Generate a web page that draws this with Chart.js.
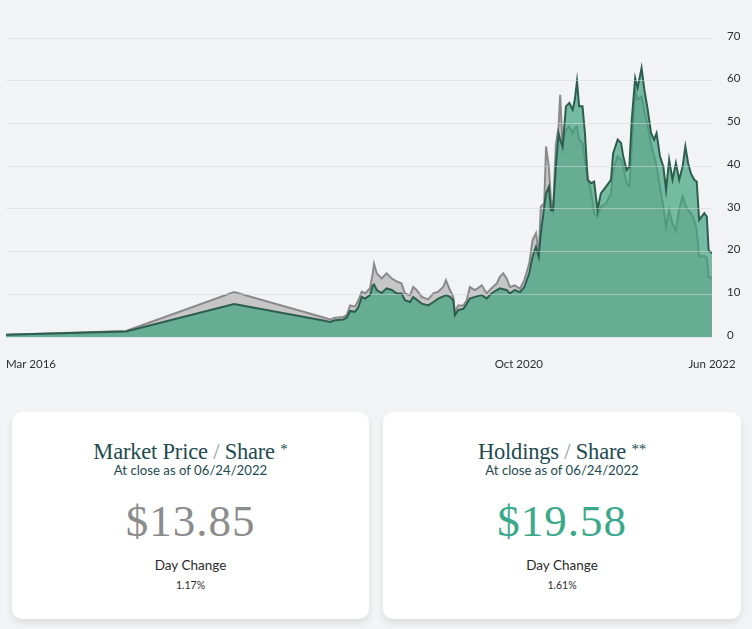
<!DOCTYPE html>
<html>
<head>
<meta charset="utf-8">
<script src="https://cdn.jsdelivr.net/npm/chart.js@4.4.1/dist/chart.umd.min.js"></script>
<style>
  html, body { margin: 0; padding: 0; background: #f2f3f5; }
  body { width: 752px; height: 629px; position: relative; overflow: hidden; font-family: Lato, "Open Sans", sans-serif; }
  #wrap { position: absolute; left: 0; top: 0; width: 752px; height: 385px; }
  .card { position: absolute; top: 412px; height: 207px; background: #fff; border-radius: 10px;
          box-shadow: 0 4px 7px rgba(0,0,0,0.09); text-align: center; }
  .card div { position: absolute; left: 0; right: 0; white-space: nowrap; }
  .title { top: 24px; line-height: 26px; font-family: "Liberation Serif", "DejaVu Serif", serif; font-size: 22.5px; color: #1d4a50; letter-spacing: -0.2px; }
  .title .sl { color: #8aa0a3; font-weight: 300; }
  .title .st { font-size: 15px; vertical-align: 5px; }
  .sub { top: 50px; line-height: 16px; font-size: 13.2px; color: #1d4a50; }
  .price { top: 84px; line-height: 50px; font-family: "Liberation Serif", "DejaVu Serif", serif; font-size: 45px; letter-spacing: 1px; }
  .dc { top: 145px; line-height: 16px; font-size: 13.5px; color: #2b2b2b; }
  .pct { top: 166px; line-height: 14px; font-size: 10.5px; color: #2b2b2b; }
</style>
</head>
<body>
<div id="wrap"><canvas id="c"></canvas></div>
<div id="cards"></div>
<script>
// ---- data ----
const dates = [
 '2016-03-01','2017-03-28','2018-03-16','2018-12-28','2019-01-23','2019-02-09','2019-03-08','2019-03-19','2019-03-30','2019-04-15',
 '2019-04-26','2019-05-07','2019-05-18','2019-06-03','2019-06-12','2019-06-16','2019-06-25','2019-07-11','2019-07-27','2019-08-13',
 '2019-08-29','2019-09-14','2019-09-25','2019-10-12','2019-10-22','2019-11-02','2019-11-19','2019-12-10','2019-12-27','2020-01-12',
 '2020-01-28','2020-02-06','2020-02-19','2020-03-01','2020-03-06','2020-03-17','2020-04-03','2020-04-14','2020-04-24','2020-05-11',
 '2020-06-02','2020-06-18','2020-07-04','2020-07-21','2020-07-31','2020-08-11','2020-08-22','2020-09-02','2020-09-18','2020-10-05',
 '2020-10-19','2020-11-04','2020-11-15','2020-11-26','2020-12-05','2020-12-12','2020-12-23','2020-12-29','2021-01-07','2021-01-14',
 '2021-01-21','2021-01-30','2021-02-08','2021-02-13','2021-02-21','2021-03-04','2021-03-15','2021-03-26','2021-04-02','2021-04-09',
 '2021-04-16','2021-04-27','2021-05-05','2021-05-14','2021-05-25','2021-06-04','2021-06-15','2021-06-26','2021-07-13','2021-07-29',
 '2021-08-05','2021-08-20','2021-08-31','2021-09-07','2021-09-18','2021-09-27','2021-10-05','2021-10-16','2021-10-24','2021-11-06',
 '2021-11-15','2021-11-26','2021-12-07','2021-12-17','2021-12-25','2022-01-05','2022-01-16','2022-01-25','2022-02-04','2022-02-15',
 '2022-02-26','2022-03-09','2022-03-20','2022-03-29','2022-04-07','2022-04-16','2022-04-27','2022-05-05','2022-05-13','2022-05-30',
 '2022-06-07','2022-06-13','2022-06-24'
];
const holdingsPerShare = [
 0.55,1.3,7.7,3.9,3.5,3.9,4.1,4.55,6.1,5.9,
 7.0,9.4,9.0,9.8,12.1,12.3,11.0,10.3,11.4,11.0,
 10.2,10.2,8.6,8.2,9.4,8.8,7.8,7.4,8.2,9.0,
 9.5,9.8,9.4,8.6,5.1,6.3,6.6,7.8,9.0,9.4,
 9.8,9.0,10.2,11.0,11.4,11.2,11.0,10.2,11.0,10.5,
 11.7,14.9,18.8,21.1,18.8,24.3,30.5,33.6,35.2,29.7,
 29.7,39.9,47.7,46.2,44.6,54.0,54.8,53.2,55.6,59.9,
 54.0,54.0,47.7,36.8,36.0,36.4,29.7,33.6,35.2,36.8,
 43.0,46.2,45.4,42.3,39.1,39.9,50.9,60.6,58.3,63.0,
 57.9,53.2,47.7,46.2,47.7,42.3,39.9,34.4,41.5,36.8,
 40.7,36.8,39.9,44.6,40.7,38.3,36.8,36.4,27.4,29.0,
 28.2,20.3,19.58
];
const marketPrice = [
 0.5,1.4,10.5,4.7,4.1,4.5,4.7,5.1,7.4,7.1,
 8.6,10.6,10.2,11.4,14.9,17.1,14.9,13.7,14.9,13.7,
 13.0,12.5,10.2,9.8,11.7,11.0,9.4,8.8,10.2,10.6,
 11.7,13.3,11.0,9.4,5.9,7.4,7.4,8.6,11.7,11.0,
 12.1,10.2,11.4,12.5,14.1,14.9,13.7,11.7,12.1,11.3,
 13.3,17.2,22.7,24.3,19.6,30.5,31.3,44.6,39.9,32.0,
 29.7,45.0,49.3,56.7,44.6,48.5,49.3,47.7,49.0,49.3,
 46.2,45.5,41.5,37.0,34.0,29.0,28.2,30.5,31.3,33.6,
 39.0,42.3,41.5,39.9,36.0,35.2,44.6,57.9,55.6,56.3,
 53.0,49.3,45.0,42.3,40.0,35.2,30.5,25.8,29.7,26.5,
 25.0,30.0,32.9,31.0,29.7,29.0,27.4,25.0,18.8,19.0,
 18.5,14.0,13.85
];
const xTickLabels = ['Mar 2016', 'Oct 2020', 'Jun 2022'];
const xTickDates = ['2016-03-01', '2020-10-01', '2022-06-24'];
const yTickValues = [0, 10, 20, 30, 40, 50, 60, 70];

const cardTitles = ['Market Price / Share', 'Holdings / Share'];
const cardMarks = ['*', '**'];
const cardAsOf = ['06/24/2022', '06/24/2022'];
const cardValues = ['$13.85', '$19.58'];
const cardDayChange = ['1.17%', '1.61%'];
const cardValueColors = ['#8c8c8c', '#3aa98a'];

// ---- cards ----
const cardsEl = document.getElementById('cards');
const cardLeft = [12, 383], cardWidth = [357, 358];
cardTitles.forEach((t, i) => {
  const parts = t.split(' / ');
  const d = document.createElement('div');
  d.className = 'card';
  d.style.left = cardLeft[i] + 'px';
  d.style.width = cardWidth[i] + 'px';
  d.innerHTML =
    '<div class="title">' + parts[0] + ' <span class="sl">/</span> ' + parts[1] + ' <span class="st">' + cardMarks[i] + '</span></div>' +
    '<div class="sub">At close as of ' + cardAsOf[i] + '</div>' +
    '<div class="price" style="color:' + cardValueColors[i] + '">' + cardValues[i] + '</div>' +
    '<div class="dc">Day Change</div>' +
    '<div class="pct">' + cardDayChange[i] + '</div>';
  cardsEl.appendChild(d);
});

// ---- chart ----
const ts = s => Date.parse(s + 'T00:00:00Z');
const xTickTs = xTickDates.map(ts);

const xLabelPlugin = {
  id: 'xLabels',
  afterDraw(chart) {
    const sx = chart.scales.x, ctx = chart.ctx;
    ctx.save();
    ctx.font = '11.5px Lato, "Open Sans", sans-serif';
    ctx.fillStyle = '#2e2e2e';
    ctx.textBaseline = 'middle';
    xTickLabels.forEach((lab, i) => {
      const px = sx.getPixelForValue(xTickTs[i]);
      ctx.textAlign = i === 0 ? 'left' : 'center';
      ctx.fillText(lab, px, chart.chartArea.bottom + 27);
    });
    ctx.restore();
  }
};

new Chart(document.getElementById('c'), {
  type: 'line',
  data: {
    datasets: [
      {
        label: 'Holdings / Share',
        data: dates.map((d, i) => ({ x: ts(d), y: holdingsPerShare[i] })),
        borderColor: '#2c5d4e',
        borderWidth: 2,
        backgroundColor: 'rgba(58,160,122,0.68)',
        fill: 'origin',
        pointRadius: 0,
        tension: 0
      },
      {
        label: 'Market Price / Share',
        data: dates.map((d, i) => ({ x: ts(d), y: marketPrice[i] })),
        borderColor: '#8a8a8a',
        borderWidth: 2,
        backgroundColor: '#c6c6c6',
        fill: 'origin',
        pointRadius: 0,
        tension: 0
      }
    ]
  },
  options: {
    responsive: true,
    maintainAspectRatio: false,
    animation: false,
    layout: { padding: { left: 6, top: 38, bottom: 48, right: 0 } },
    plugins: { legend: { display: false }, tooltip: { enabled: false } },
    scales: {
      x: {
        type: 'linear',
        display: false,
        min: xTickTs[0],
        max: xTickTs[xTickTs.length - 1]
      },
      y: {
        position: 'right',
        min: yTickValues[0],
        max: yTickValues[yTickValues.length - 1],
        afterBuildTicks: s => { s.ticks = yTickValues.map(v => ({ value: v })); },
        afterFit: s => { s.width = 40; },
        grid: { color: 'rgba(212,216,221,0.55)', lineWidth: 1, drawTicks: false, z: 1 },
        border: { display: false },
        ticks: {
          padding: 15,
          labelOffset: -2,
          color: '#2e2e2e',
          font: { family: 'Lato, "Open Sans", sans-serif', size: 11.5 }
        }
      }
    }
  },
  plugins: [xLabelPlugin]
});
</script>
</body>
</html>
